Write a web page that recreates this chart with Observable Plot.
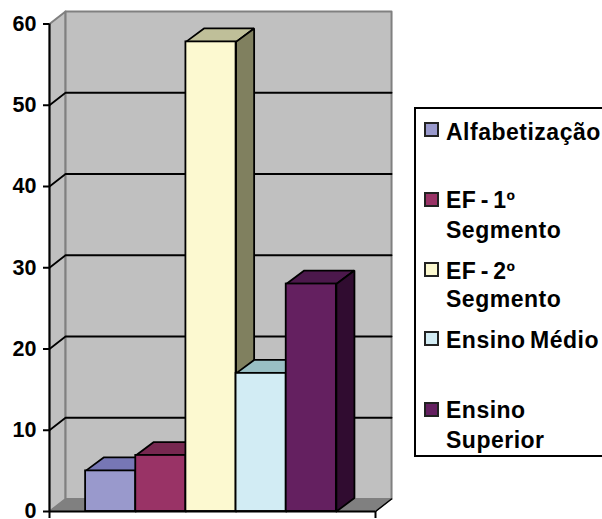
<!DOCTYPE html>
<html><head><meta charset="utf-8">
<script src="https://cdn.jsdelivr.net/npm/d3@7"></script>
<script src="https://cdn.jsdelivr.net/npm/@observablehq/plot@0.6"></script>
<style>
html,body{margin:0;padding:0;background:#fff;overflow:hidden}
#wrap{position:relative;width:602px;height:519px;font-family:"Liberation Sans",Arial,sans-serif}
#legend{position:absolute;left:414px;top:107px;width:190px;height:350px;border:2px solid #000;box-sizing:border-box;background:#fff}
.sw{position:absolute;left:8px;width:15px;height:15px;border:2px solid #222;box-sizing:border-box}
.lb{position:absolute;left:30px;font-weight:bold;font-size:23px;line-height:24px;white-space:nowrap;color:#000;letter-spacing:.5px;word-spacing:-2.5px}
</style></head><body><div id="wrap"></div>
<script>
const categories = ["Alfabetização","EF - 1º Segmento","EF - 2º Segmento","Ensino Médio","Ensino Superior"];
const values = [5, 6.9, 57.8, 17, 28];
const frontColors = ["#9999CC","#993366","#FCF9D0","#D2ECF4","#642060"];
const topColors = ["#7777B5","#772850","#BFBF99","#99BFC4","#4C184C"];
const sideColors = ["#5C5C80","#5C1F3D","#80805F","#6F8C93","#300C30"];
const legendLines = [["Alfabetização"],["EF - 1º","Segmento"],["EF - 2º","Segmento"],["Ensino Médio"],["Ensino","Superior"]];
const legendTops = [13,83,153,222,293];
const legendLineTops = [[13],[81,111],[152,180],[221],[291,321]];
const yTicks = [0,10,20,30,40,50,60];
const gridValues = [10,20,30,40,50];
const wallDx = 0.32, wallDy = 1.54, barDx = 0.36, barDy = 1.65;
const xMin = -0.72, xMax = 5.78;

function poly(id, fill, pts){ return pts.concat([pts[0]]).map(([x,y])=>({id,fill,x,y})); }
const walls = [
  ...poly("left","#C0C0C0",[[xMin,0],[xMin+wallDx,wallDy],[xMin+wallDx,60+wallDy],[xMin,60]]),
  ...poly("back","#C0C0C0",[[xMin+wallDx,wallDy],[xMax+wallDx,wallDy],[xMax+wallDx,60+wallDy],[xMin+wallDx,60+wallDy]])
];
const floor = poly("floor","#808080",[[xMin,0],[xMax,0],[xMax+wallDx,wallDy],[xMin+wallDx,wallDy]]);
const gridLines = gridValues.flatMap(v=>[
  {id:v,x:xMin,y:v},{id:v,x:xMin+wallDx,y:v+wallDy},{id:v,x:xMax+wallDx,y:v+wallDy}
]);
const barMarks = values.flatMap((v,i)=>{
  const top = poly("t"+i,topColors[i],[[i,v],[i+1,v],[i+1+barDx,v+barDy],[i+barDx,v+barDy]]);
  const side = poly("s"+i,sideColors[i],[[i+1,0],[i+1+barDx,barDy],[i+1+barDx,v+barDy],[i+1,v]]);
  return [
    Plot.line(top,{x:"x",y:"y",z:"id",fill:"fill",stroke:"#000",strokeWidth:1.8,strokeLinejoin:"miter"}),
    Plot.line(side,{x:"x",y:"y",z:"id",fill:"fill",stroke:"#000",strokeWidth:1.8,strokeLinejoin:"miter"}),
    Plot.rectY([{i,v,f:frontColors[i]}],{x1:"i",x2:d=>d.i+1,y1:0,y2:"v",fill:"f",stroke:"#000",strokeWidth:1.8})
  ];
});
const chart = Plot.plot({
  width:602,height:519,
  marginLeft:49,marginRight:227,marginTop:23.5,marginBottom:8,
  style:{background:"transparent",overflow:"visible"},
  x:{domain:[xMin,xMax],axis:null},
  y:{domain:[0,60],axis:null},
  marks:[
    Plot.line(walls,{x:"x",y:"y",z:"id",fill:"fill",stroke:"#808080",strokeWidth:2}),
    Plot.line(floor,{x:"x",y:"y",z:"id",fill:"fill",stroke:"#808080",strokeWidth:1}),
    Plot.line(gridLines,{x:"x",y:"y",z:"id",stroke:"#000",strokeWidth:1.8}),
    ...barMarks,
    Plot.ruleX([xMin],{y1:0,y2:60,stroke:"#000",strokeWidth:2}),
    Plot.ruleY([0],{x1:xMin,x2:xMax,stroke:"#000",strokeWidth:2}),
    Plot.line([{x:xMax,y:0},{x:xMax+wallDx,y:wallDy}],{x:"x",y:"y",stroke:"#000",strokeWidth:1.5}),
    Plot.axisY({ticks:yTicks,anchor:"left",tickSize:6,tickPadding:7,stroke:"#000",strokeWidth:2,
      fontSize:21.5,fontWeight:"bold",fontFamily:"Liberation Sans",fill:"#000",tickFormat:d=>String(d),label:null,textStroke:"none"}),
    Plot.axisX({ticks:[xMin,xMax],anchor:"bottom",tickSize:7,stroke:"#000",strokeWidth:2,tickFormat:()=>"",label:null})
  ]
});
const wrap = document.getElementById("wrap");
chart.style.position="absolute";chart.style.left="0";chart.style.top="0";
wrap.appendChild(chart);
const legend = document.createElement("div");legend.id="legend";
categories.forEach((c,i)=>{
  const s=document.createElement("div");s.className="sw";s.style.top=legendTops[i]+"px";s.style.background=frontColors[i];legend.appendChild(s);
  legendLines[i].forEach((t,j)=>{
    const l=document.createElement("div");l.className="lb";l.textContent=t;l.style.top=legendLineTops[i][j]-2+"px";legend.appendChild(l);
  });
});
wrap.appendChild(legend);
</script></body></html>
